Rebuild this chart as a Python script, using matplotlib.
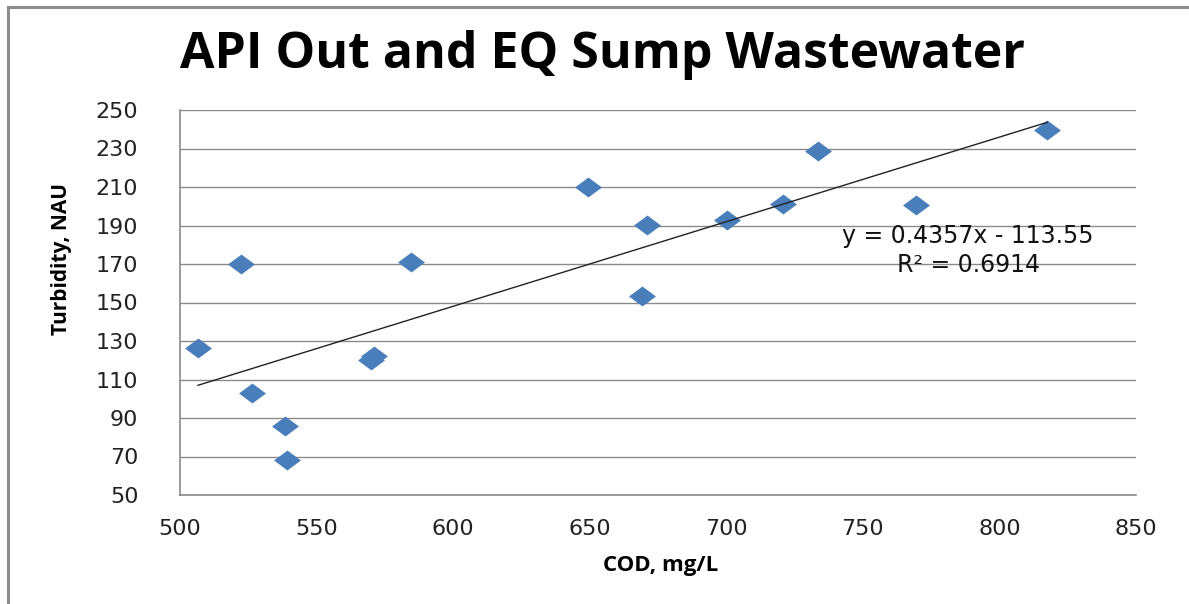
import matplotlib.pyplot as plt
import matplotlib.patches as patches
import numpy as np

# COD (mg/L) vs turbidity (NAU)
cod = [506.6, 522.3, 526.3, 538.4, 539.1, 569.9, 571.0, 584.5,
       649.2, 669.0, 670.8, 700.4, 720.9, 733.4, 769.6, 817.5]
turb = [126.4, 170.0, 103.0, 85.8, 68.2, 120.1, 122.2, 171.0,
        210.0, 153.4, 190.3, 192.9, 201.2, 228.7, 200.6, 239.6]

x_ticks = [500, 550, 600, 650, 700, 750, 800, 850]
y_ticks = [50, 70, 90, 110, 130, 150, 170, 190, 210, 230, 250]

title = "API Out and EQ Sump Wastewater"
eq_text = "y = 0.4357x - 113.55"
r2_text = "R\u00b2 = 0.6914"

W, H = 1189, 604
fig = plt.figure(figsize=(W / 100, H / 100), dpi=100)
ax = fig.add_axes([180 / W, 1 - 495 / H, (1136 - 180) / W, (495 - 110) / H])

# outer chart border (gray frame, runs off right/bottom)
fig.add_artist(patches.Rectangle((8 / W, -0.05), 1.2, 1 - 7 / H + 0.05,
                                 transform=fig.transFigure, fill=False,
                                 ec='#8c8c8c', lw=2.2))

# gridlines
for yv in y_ticks:
    ax.axhline(yv, color='#8a8a8a', lw=1.0, zorder=1)

diamond = [(-1, 0), (0, 0.74), (1, 0), (0, -0.74), (-1, 0)]
ax.scatter(cod, turb, marker=diamond, s=19.4 ** 2, color='#4A7EBB',
           linewidths=0, zorder=3)

# linear trendline
k, b = np.polyfit(cod, turb, 1)
xs = np.array([min(cod), max(cod)])
ax.plot(xs, k * xs + b, color='#222222', lw=1.0, zorder=4)

ax.set_xlim(500, 850)
ax.set_ylim(50, 250)
ax.set_xticks(x_ticks)
ax.set_yticks(y_ticks)
ax.tick_params(length=0, labelsize=16, colors='#222222')
ax.tick_params(axis='y', pad=30)
ax.tick_params(axis='x', pad=17)
for s in ['top', 'right']:
    ax.spines[s].set_visible(False)
for s in ['left', 'bottom']:
    ax.spines[s].set_color('#8a8a8a')
    ax.spines[s].set_linewidth(1.2)

ax.text(788.5, 184.5, eq_text, fontsize=17, ha='center', va='center', color='#111111')
ax.text(788.5, 169.5, r2_text, fontsize=17, ha='center', va='center', color='#111111')

fig.text(602 / W, 1 - 55 / H, title, fontsize=36, fontweight='bold',
         family='Open Sans', ha='center', va='center')
fig.text(661 / W, 1 - 566 / H, "COD, mg/L", fontsize=16, fontweight='bold',
         family='Open Sans', ha='center', va='center')
fig.text(61 / W, 1 - 259 / H, "Turbidity, NAU", fontsize=15, fontweight='bold',
         family='Open Sans', ha='center', va='center', rotation=90)

fig.savefig('out.png', dpi=100)
